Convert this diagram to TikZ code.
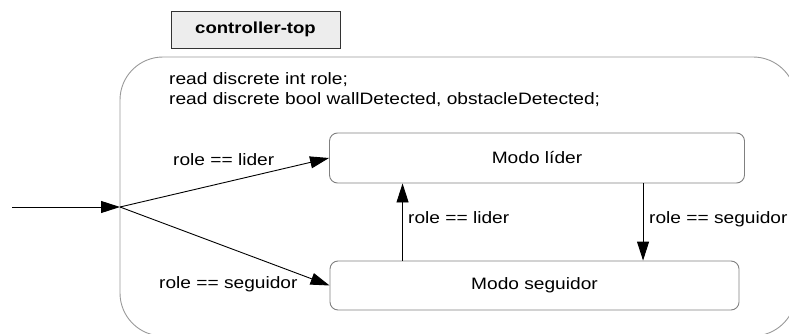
\documentclass[tikz,border=0pt]{standalone}
\usepackage{fontspec}
\setmainfont{Liberation Sans}[FakeStretch=1.16]
\usetikzlibrary{arrows.meta,positioning}

\begin{document}
\begin{tikzpicture}[x=1pt,y=-1pt,>={Triangle[length=19pt,width=12pt]},
  font=\fontsize{16.5}{20}\selectfont]
  \tikzstyle{mode}=[draw=black!50,line width=0.9pt,rounded corners=8pt,minimum width=415pt,minimum height=50pt]
  \tikzstyle{cond}=[anchor=base west,inner sep=0pt]
  \tikzstyle{trans}=[draw,line width=0.9pt,->]
  \useasboundingbox (0,0) rectangle (789,334);
  \clip (0,0) rectangle (789,334);
  % automaton frame
  \draw[black!40,line width=0.9pt,rounded corners=43pt] (120,57) rectangle (796,336);
  \node[draw=black!80,fill=black!7,line width=0.9pt,minimum width=169pt,minimum height=37pt,font=\fontsize{16}{20}\selectfont\bfseries] (title) at (255.5,29.5) {controller-top};
  \node[anchor=north west,inner sep=0pt,align=left] (decl) at (169,72) {read discrete int role;\\read discrete bool wallDetected, obstacleDetected;};
  % modes
  \node[mode] (lider) at (537,158) {Modo líder};
  \node[mode,minimum width=409pt,minimum height=49pt] (seguidor) at (534.5,285.5) {Modo seguidor};
  % initial transitions
  \coordinate (start) at (12,207);
  \coordinate (init) at (120,207);
  \draw[trans] (start) -- (init);
  \draw[trans] (init) -- (lider.west);
  \draw[trans] (init) -- (seguidor.west);
  \node[cond] (c1) at (173,165) {role == lider};
  \node[cond] (c2) at (159,288) {role == seguidor};
  % switching between modes
  \draw[trans] ([xshift=73pt]seguidor.north west) -- ([xshift=73pt]seguidor.north west |- lider.south);
  \draw[trans] ([xshift=314pt]lider.south west) -- ([xshift=314pt]lider.south west |- seguidor.north);
  \node[cond] (c3) at (408,223) {role == lider};
  \node[cond] (c4) at (649,223) {role == seguidor};
\end{tikzpicture}
\end{document}
